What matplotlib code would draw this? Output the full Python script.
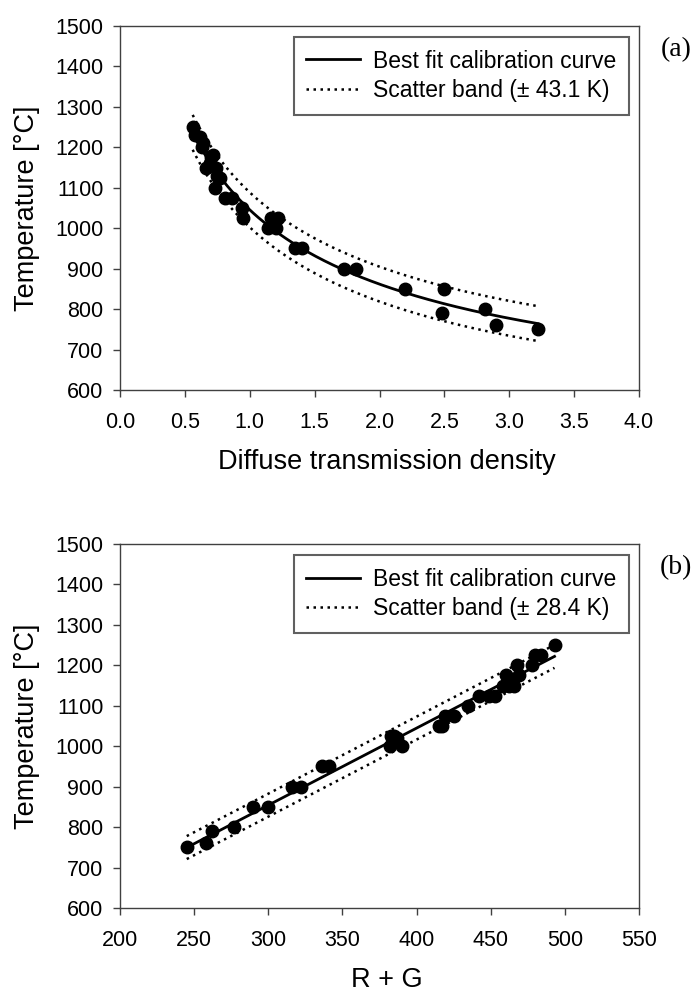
import numpy as np
import matplotlib
matplotlib.use("Agg")
import matplotlib.pyplot as plt

plt.rcParams["font.family"] = ["Liberation Sans", "DejaVu Sans"]

# (a) diffuse transmission density vs. temperature
density_a = [0.56, 0.58, 0.62, 0.63, 0.64, 0.70, 0.72, 0.66, 0.74, 0.69, 0.77, 0.75,
             0.73, 0.81, 0.86, 0.94, 0.95, 1.16, 1.22, 1.14, 1.20, 1.35, 1.40,
             1.73, 1.82, 2.20, 2.50, 2.48, 2.81, 2.90, 3.22]
temp_a = [1250, 1230, 1225, 1200, 1210, 1175, 1180, 1150, 1150, 1160, 1125, 1130,
          1100, 1075, 1075, 1050, 1025, 1025, 1025, 1000, 1000, 950, 950,
          900, 900, 850, 850, 790, 800, 760, 750]
band_a = 43.1

# (b) R + G colour value vs. temperature
rg_b = [245, 258, 262, 277, 290, 300, 316, 322, 336, 341, 382, 383, 385, 387, 390, 384,
        415, 417, 419, 425, 435, 442, 449, 453, 458, 460, 462, 466, 465, 468, 469,
        478, 480, 484, 493]
temp_b = [750, 760, 790, 800, 850, 850, 900, 900, 950, 950, 1000, 1025, 1025, 1020, 1000, 1010,
          1050, 1050, 1075, 1075, 1100, 1125, 1125, 1125, 1150, 1175, 1150, 1150, 1165, 1200, 1175,
          1200, 1225, 1225, 1250]
band_b = 28.4

DOT = (0, (1, 1.8))
SPINE = "#404040"


def style_axes(ax):
    for s in ax.spines.values():
        s.set_color(SPINE)
        s.set_linewidth(1.0)
    ax.tick_params(direction="out", length=5, width=1, color=SPINE,
                   labelsize=15.5, top=False, right=False)
    ax.tick_params(axis="x", pad=11)
    ax.tick_params(axis="y", pad=7)
    ax.set_ylim(600, 1500)
    ax.set_yticks(np.arange(600, 1501, 100))
    ax.set_ylabel("Temperature [°C]", fontsize=19.5)
    ax.yaxis.set_label_coords(-0.154, 0.5)


def draw_panel(ax, x, t, fit_x, fit_t, band):
    ax.plot(fit_x, fit_t, color="black", lw=2, label="Best fit calibration curve")
    ax.plot(fit_x, fit_t + band, color="black", lw=1.8, ls=DOT,
            label=f"Scatter band (± {band} K)")
    ax.plot(fit_x, fit_t - band, color="black", lw=1.8, ls=DOT)
    ax.plot(x, t, "o", color="black", ms=9, zorder=3)
    leg = ax.legend(loc="upper right", bbox_to_anchor=(0.981, 0.970), borderaxespad=0,
                    fontsize=16.5, handlelength=2.36, fancybox=False, framealpha=1,
                    borderpad=0.55, labelspacing=0.3, handletextpad=0.57)
    leg.get_frame().set_edgecolor("#606060")
    leg.get_frame().set_linewidth(1.5)
    style_axes(ax)


fig = plt.figure(figsize=(6.99, 9.92), dpi=100)
ax_a = fig.add_axes([0.1717, 0.6069, 0.7425, 0.3669])
ax_b = fig.add_axes([0.1717, 0.0847, 0.7425, 0.3669])

# (a): least squares fit of T against ln(density), quadratic
xa = np.asarray(density_a)
coef_a = np.polyfit(np.log(xa), temp_a, 2)
fx_a = np.linspace(xa.min(), xa.max(), 200)
draw_panel(ax_a, xa, temp_a, fx_a, np.polyval(coef_a, np.log(fx_a)), band_a)
ax_a.set_xlim(0, 4)
ax_a.set_xticks(np.arange(0, 4.01, 0.5))
ax_a.xaxis.set_major_formatter(matplotlib.ticker.FormatStrFormatter("%.1f"))
ax_a.set_xlabel("Diffuse transmission density", fontsize=19.5)
ax_a.xaxis.set_label_coords(0.515, -0.163)

# (b): linear least squares fit
xb = np.asarray(rg_b)
coef_b = np.polyfit(xb, temp_b, 1)
fx_b = np.linspace(xb.min(), xb.max(), 50)
draw_panel(ax_b, xb, temp_b, fx_b, np.polyval(coef_b, fx_b), band_b)
ax_b.set_xlim(200, 550)
ax_b.set_xticks(np.arange(200, 551, 50))
ax_b.set_xlabel("R + G", fontsize=19.5)
ax_b.xaxis.set_label_coords(0.515, -0.163)

fig.text(0.967, 0.9496, "(a)", family="Liberation Serif", fontsize=20, ha="center", va="center")
fig.text(0.967, 0.4274, "(b)", family="Liberation Serif", fontsize=20, ha="center", va="center")

fig.savefig("out.png", dpi=100)
